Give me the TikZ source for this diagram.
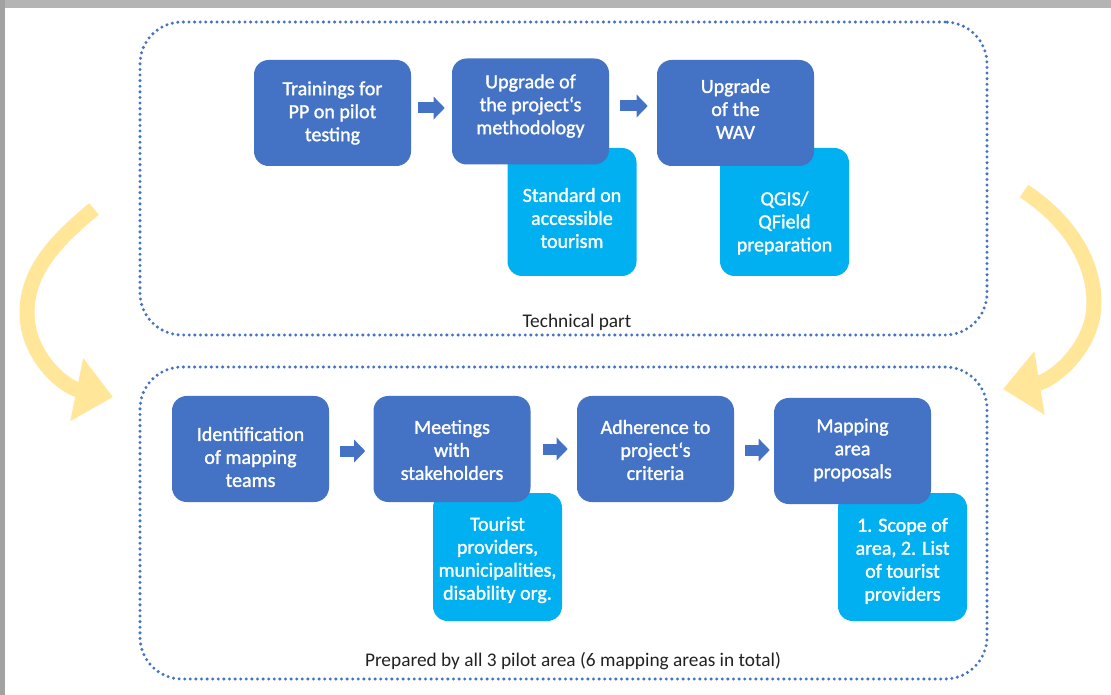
\documentclass[tikz,border=0pt]{standalone}
\usepackage{fontspec}
\setmainfont{Carlito}
\newfontfamily\boxfont[FakeBold=1.4]{Carlito}
\usetikzlibrary{arrows.meta,calc}
\newdimen\pxu \pxu=0.75pt
\definecolor{dblue}{HTML}{4472C4}
\definecolor{lblue}{HTML}{00B0F0}
\definecolor{ygold}{HTML}{FFE699}
\definecolor{txtgray}{HTML}{222222}
\definecolor{framegray}{HTML}{B4B4B4}
\definecolor{framegrayl}{HTML}{A2A2A2}
\begin{document}
\begin{tikzpicture}[x=0.75pt,y=-0.75pt,
  container/.style={draw=dblue, line width=2.5pt, dash pattern=on 0pt off 4.2pt, line cap=round, rounded corners=31.5pt},
  mainbox/.style={fill=dblue, rounded corners=11pt, minimum width=157\pxu, minimum height=106\pxu, inner sep=0pt},
  subbox/.style={fill=lblue, rounded corners=11pt, minimum width=129\pxu, minimum height=128\pxu, inner sep=0pt},
  boxtext/.style={text=white, align=center, font=\boxfont\fontsize{15}{17.25}\selectfont, inner sep=0pt},
  caption/.style={text=txtgray, font=\fontsize{14.5}{16}\selectfont, inner sep=0pt},
  barrow/.style={line width=8.25pt, draw=dblue, -{Triangle[length=8.25pt,width=16.5pt]}},
  yarrow/.style={line width=11.25pt, draw=ygold, -{Triangle[length=27.75pt,width=46.5pt]}}
]
\useasboundingbox (0,0) rectangle (1111,695);
\fill[white] (0,0) rectangle (1111,695);
% screenshot frame
\fill[framegray] (0,0) rectangle (1111,8);
\fill[framegrayl] (0,0) rectangle (5,695);

% containers
\node[container, minimum width=847\pxu, minimum height=313\pxu] (techc) at (563.5,178.5) {};
\node[container, minimum width=847\pxu, minimum height=312\pxu] (prepc) at (563.5,523) {};
\node[caption] (techlbl) at (577,322) {Technical part};
\node[caption] (preplbl) at (573,661) {Prepared by all 3 pilot area (6 mapping areas in total)};

% yellow curved arrows
\coordinate (la0) at (94,209);
\coordinate (la1) at (27,313);
\coordinate (la2) at (113,397);
\draw[yarrow] (la0) .. controls (54,242) and (27,272) .. (la1)
                    .. controls (27,356) and (64,387) .. (la2);
\coordinate (ra0) at (1024,191);
\coordinate (ra1) at (1094,303);
\coordinate (ra2) at (1003,389);
\draw[yarrow] (ra0) .. controls (1065.5,218.5) and (1094,258) .. (ra1)
                    .. controls (1094,348) and (1052,381) .. (ra2);

% sub boxes (behind)
\node[subbox] (s1) at (572,212) {};
\node[subbox] (s2) at (784.5,212) {};
\node[subbox] (s3) at (497.5,557) {};
\node[subbox] (s4) at (902.5,557) {};

% main boxes
\node[mainbox] (t1) at (332.5,113) {};
\node[mainbox] (t2) at (530.5,111.5) {};
\node[mainbox] (t3) at (735.5,113) {};
\node[mainbox] (b1) at (250.5,449) {};
\node[mainbox] (b2) at (452,449) {};
\node[mainbox] (b3) at (655.5,449) {};
\node[mainbox] (b4) at (852.5,451) {};

% texts
\node[boxtext] (t1t) at (332.5,113) {Trainings for\\PP on pilot\\testing};
\node[boxtext] (t2t) at (530.5,106) {Upgrade of\\the project‘s\\methodology};
\node[boxtext] (t3t) at (735.5,109) {Upgrade\\of the\\WAV};
\node[boxtext] (s1t) at (572,218) {Standard on\\accessible\\tourism};
\node[boxtext] (s2t) at (784.5,223) {QGIS/\\QField\\preparation};
\node[boxtext] (b1t) at (250.5,457) {Identification\\of mapping\\teams};
\node[boxtext] (b2t) at (452,450) {Meetings\\with\\stakeholders};
\node[boxtext] (b3t) at (655.5,450) {Adherence to\\project‘s\\criteria};
\node[boxtext] (b4t) at (852.5,450) {Mapping\\area\\proposals};
\node[boxtext] (s3t) at (497.5,560) {Tourist\\providers,\\municipalities,\\disability org.};
\node[boxtext] (s4t) at (902.5,561) {1. Scope of\\area, 2. List\\of tourist\\providers};

% blue block arrows
\draw[barrow, shorten <=7\pxu, shorten >=7\pxu] ([yshift=5\pxu]t1.east) -- ([yshift=3.5\pxu]t2.west);
\draw[barrow, shorten <=11\pxu, shorten >=9\pxu] ([yshift=5.5\pxu]t2.east) -- ([yshift=7\pxu]t3.west);
\draw[barrow, shorten <=11\pxu, shorten >=8\pxu] ([yshift=-2\pxu]b1.east) -- ([yshift=-2\pxu]b2.west);
\draw[barrow, shorten <=12\pxu, shorten >=9\pxu] (b2.east) -- (b3.west);
\draw[barrow, shorten <=11\pxu, shorten >=4\pxu] ([yshift=-1\pxu]b3.east) -- ([yshift=1\pxu]b4.west);
\end{tikzpicture}
\end{document}
